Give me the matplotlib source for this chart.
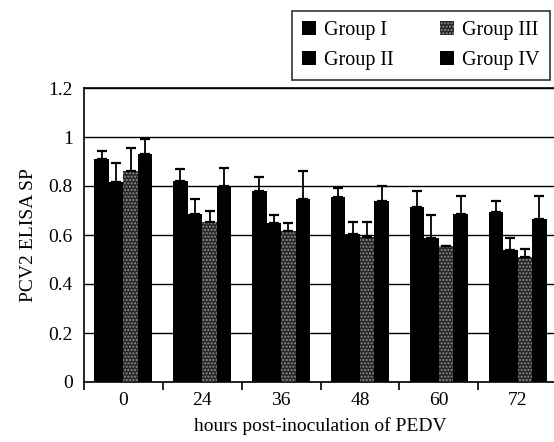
import matplotlib
matplotlib.use("Agg")
import matplotlib.pyplot as plt
import numpy as np

categories = ["0", "24", "36", "48", "60", "72"]
group_names = ["Group I", "Group II", "Group III", "Group IV"]
group1 = [0.91, 0.82, 0.78, 0.756, 0.714, 0.695]
group2 = [0.817, 0.686, 0.65, 0.604, 0.589, 0.539]
group3 = [0.862, 0.654, 0.618, 0.59, 0.556, 0.512]
group4 = [0.93, 0.802, 0.746, 0.737, 0.686, 0.664]
err1 = [0.033, 0.05, 0.055, 0.034, 0.066, 0.045]
err2 = [0.078, 0.062, 0.032, 0.05, 0.091, 0.049]
err3 = [0.093, 0.045, 0.033, 0.064, 0.0, 0.032]
err4 = [0.062, 0.07, 0.117, 0.063, 0.073, 0.095]
yticks = [0, 0.2, 0.4, 0.6, 0.8, 1, 1.2]
ytick_labels = ["0", "0.2", "0.4", "0.6", "0.8", "1", "1.2"]

plt.rcParams['font.family'] = ['Liberation Serif', 'DejaVu Serif']
plt.rcParams['hatch.linewidth'] = 1.0

fig = plt.figure(figsize=(5.54, 4.42), dpi=100)
ax = fig.add_axes([84/554, 1-382/442, (557-84)/554, (382-88)/442])

values = [group1, group2, group3, group4]
errs = [err1, err2, err3, err4]
x = np.arange(len(categories))
w = 0.184
offsets = [-1.5*w, -0.5*w, 0.5*w, 1.5*w]
handles = []
for i in range(4):
    if i == 2:
        b = ax.bar(x + offsets[i], values[i], w, color='#262626', edgecolor='#8f8f8f',
                   hatch='.....', linewidth=0, zorder=3, label=group_names[i])
    else:
        b = ax.bar(x + offsets[i], values[i], w, color='black', linewidth=0, zorder=3,
                   label=group_names[i])
    ax.errorbar(x + offsets[i], values[i], yerr=[np.zeros(6), errs[i]], fmt='none',
                ecolor='black', elinewidth=1.3, capsize=3.5, capthick=1.6, zorder=4)
    handles.append(b)

ax.set_ylim(0, 1.2)
ax.set_xlim(-0.5, 5.5)
ax.set_yticks(yticks)
ax.set_yticklabels(ytick_labels, fontsize=14)
ax.set_xticks(x)
ax.set_xticklabels(categories, fontsize=14)
ax.set_xticks(np.arange(-0.5, 6.0, 1.0), minor=True)
ax.tick_params(axis='x', which='major', length=0, pad=7)
ax.tick_params(axis='x', which='minor', length=6, width=1.2, direction='out')
ax.tick_params(axis='y', which='major', length=0, pad=8)
ax.yaxis.grid(True, color='black', linewidth=1.0, zorder=1)
ax.set_axisbelow(True)
for s in ax.spines.values():
    s.set_linewidth(1.2)
    s.set_color('black')

ax.set_ylabel("PCV2 ELISA SP", fontsize=14, labelpad=8)
ax.set_xlabel("hours post-inoculation of PEDV", fontsize=14, labelpad=6)

leg = fig.legend(handles=handles, labels=group_names, ncol=2,
                 loc='upper left', bbox_to_anchor=(292/554, 1-11/442),
                 fontsize=14.5, frameon=True, fancybox=False, edgecolor='black',
                 handlelength=0.7, handleheight=0.7, handletextpad=0.4,
                 columnspacing=2.3, borderpad=0.5, labelspacing=0.55,
                 borderaxespad=0)
leg.get_frame().set_linewidth(1.2)

fig.savefig("out.png", dpi=100)
